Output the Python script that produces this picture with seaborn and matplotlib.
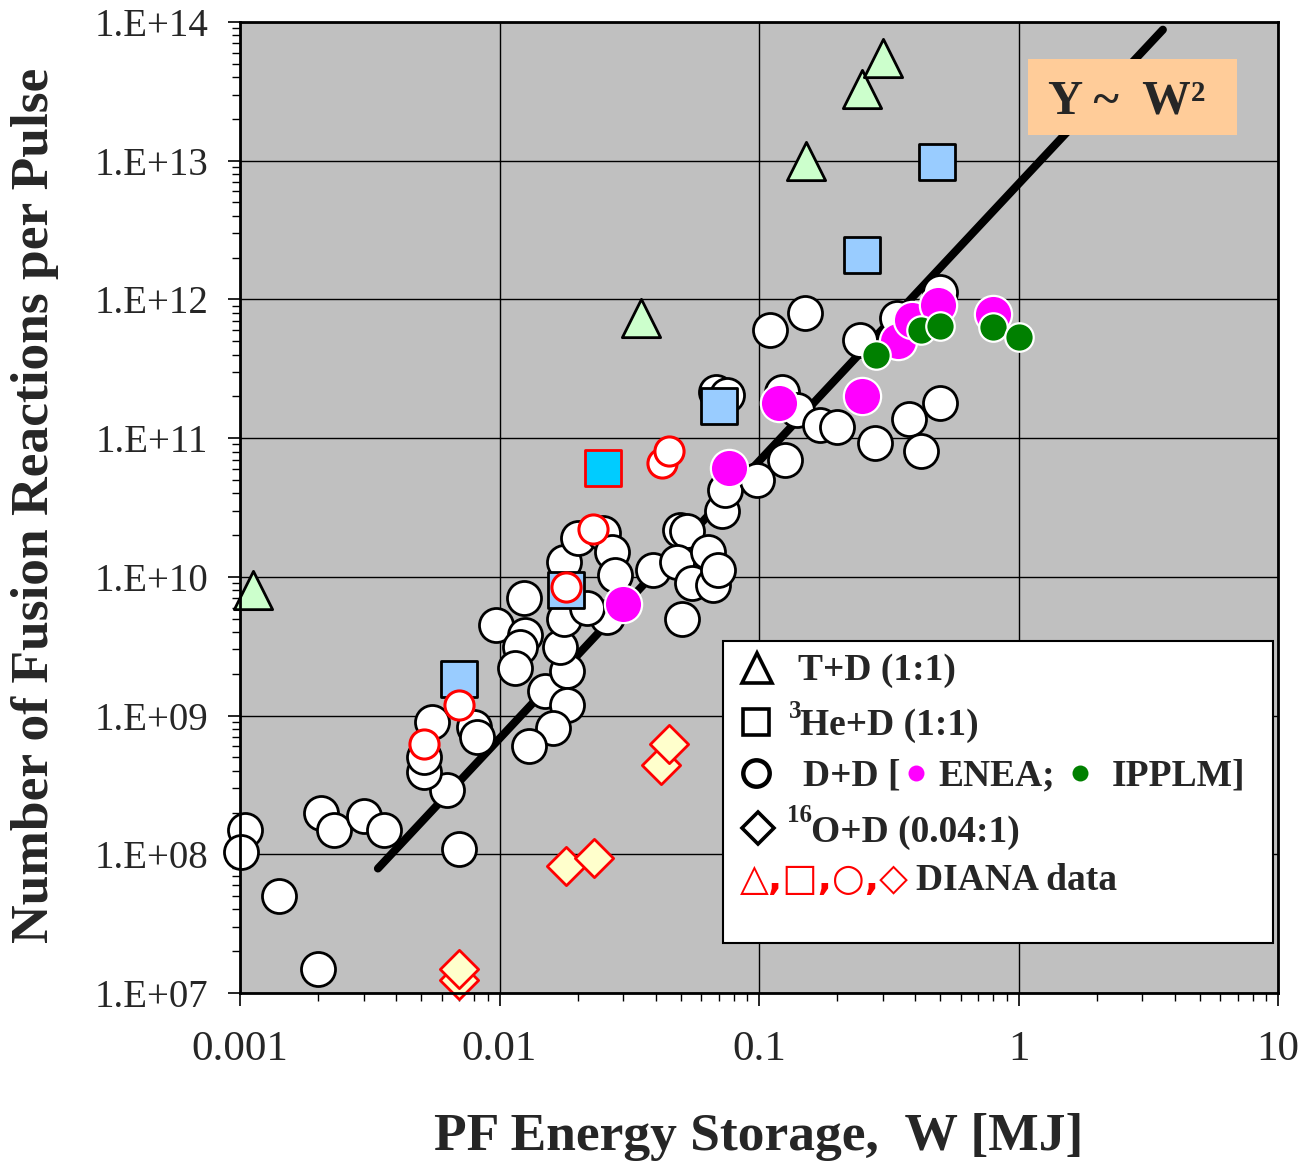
import numpy as np
import pandas as pd
import matplotlib
matplotlib.use("Agg")
import matplotlib.pyplot as plt
import seaborn as sns
from matplotlib.lines import Line2D
from matplotlib.patches import Rectangle
from matplotlib.ticker import LogLocator, NullFormatter

# ---------------- data ----------------
# T+D (1:1)
td_w = [0.00112, 0.035, 0.152, 0.25, 0.30]
td_y = [8.0e9, 7.3e11, 1.0e13, 3.3e13, 5.5e13]
# 3He+D (1:1)
he_w = [0.0070, 0.018, 0.070, 0.25, 0.485]
he_y = [1.83e9, 8.0e9, 1.7e11, 2.1e12, 9.8e12]
# DIANA 3He+D
diana_he_w = [0.025]
diana_he_y = [6.1e10]
# D+D (various devices)
dd_w = [0.00105, 0.00101, 0.00141, 0.0020, 0.00205, 0.0023, 0.0030, 0.0036,
        0.0070, 0.0063, 0.0051, 0.0051, 0.0055, 0.0080, 0.0082,
        0.0124, 0.0097, 0.0125, 0.0120, 0.0115, 0.0150, 0.0182, 0.0182,
        0.0161, 0.0130, 0.0171, 0.0178, 0.0178, 0.0200, 0.025, 0.0272,
        0.0278, 0.026, 0.0218, 0.039, 0.0497, 0.053, 0.0483, 0.0635,
        0.0552, 0.0665, 0.0695, 0.0505, 0.072, 0.074, 0.098, 0.126,
        0.068, 0.075, 0.123, 0.140, 0.172, 0.20, 0.28, 0.378, 0.50,
        0.42, 0.110, 0.150, 0.245, 0.34, 0.50]
dd_y = [1.5e8, 1.04e8, 5.0e7, 1.5e7, 2.0e8, 1.5e8, 1.9e8, 1.5e8,
        1.1e8, 2.9e8, 3.9e8, 5.0e8, 9.0e8, 8.3e8, 7.0e8,
        7.0e9, 4.5e9, 3.8e9, 3.1e9, 2.2e9, 1.5e9, 2.1e9, 1.2e9,
        8.1e8, 6.0e8, 3.1e9, 5.0e9, 1.28e10, 1.9e10, 2.07e10, 1.5e10,
        1.03e10, 5.1e9, 6.0e9, 1.12e10, 2.17e10, 2.15e10, 1.28e10, 1.5e10,
        9.0e9, 8.7e9, 1.12e10, 5.0e9, 3.0e10, 4.2e10, 5.0e10, 7.0e10,
        2.15e11, 2.05e11, 2.15e11, 1.6e11, 1.24e11, 1.2e11, 9.2e10, 1.37e11, 1.8e11,
        8.1e10, 6.0e11, 8.0e11, 5.1e11, 7.3e11, 1.13e12]
# DIANA D+D
diana_dd_w = [0.0051, 0.0070, 0.018, 0.0229, 0.0423, 0.045]
diana_dd_y = [6.2e8, 1.19e9, 8.4e9, 2.2e10, 6.6e10, 8.1e10]
# DIANA 16O+D
diana_od_w = [0.0070, 0.0070, 0.018, 0.0231, 0.0419, 0.045]
diana_od_y = [1.24e7, 1.5e7, 8.2e7, 9.4e7, 4.4e8, 6.2e8]
# ENEA D+D
enea_w = [0.030, 0.0765, 0.119, 0.25, 0.344, 0.389, 0.49, 0.80]
enea_y = [6.4e9, 6.1e10, 1.8e11, 2.0e11, 5.0e11, 7.1e11, 9.1e11, 7.9e11]
# IPPLM D+D
ipplm_w = [0.282, 0.42, 0.50, 0.80, 1.0]
ipplm_y = [4.0e11, 6.0e11, 6.4e11, 6.3e11, 5.4e11]
# Y ~ W^2 line (end points)
fit_w = [0.0034, 3.6]
fit_y = [7.9e7, 8.8e13]

xtick_vals = [0.001, 0.01, 0.1, 1, 10]
xtick_labels = ["0.001", "0.01", "0.1", "1", "10"]
ytick_vals = [1e7, 1e8, 1e9, 1e10, 1e11, 1e12, 1e13, 1e14]
ytick_labels = ["1.E+07", "1.E+08", "1.E+09", "1.E+10",
                "1.E+11", "1.E+12", "1.E+13", "1.E+14"]

# ---------------- styling ----------------
sns.set_style("ticks")
plt.rcParams['font.family'] = ['Liberation Serif', 'DejaVu Sans']

W, H = 1302, 1165
fig = plt.figure(figsize=(W / 100, H / 100), dpi=100)
L, R, T, B = 240, 1278, 22, 993
ax = fig.add_axes([L / W, 1 - B / H, (R - L) / W, (B - T) / H])
ax.set_facecolor('#C0C0C0')
ax.set_xscale('log')
ax.set_yscale('log')


def F(px, py):
    return (px / W, 1 - py / H)


# fit line
sns.lineplot(x=fit_w, y=fit_y, color='black', linewidth=5.8,
             solid_capstyle='round', zorder=2, ax=ax, legend=False)

common = dict(ax=ax, legend=False, clip_on=False)
# D+D white circles
sns.scatterplot(x=dd_w, y=dd_y, marker='o', s=600, color='white',
                edgecolor='black', linewidth=2.0, zorder=3, **common)
# T+D triangles
sns.scatterplot(x=td_w, y=td_y, marker='^', s=760, color='#CCFFCC',
                edgecolor='black', linewidth=2.0, zorder=4, **common)
# 3He+D squares
sns.scatterplot(x=he_w, y=he_y, marker='s', s=680, color='#99CCFF',
                edgecolor='black', linewidth=2.0, zorder=4, **common)
sns.scatterplot(x=diana_he_w, y=diana_he_y, marker='s', s=680, color='#00CCFF',
                edgecolor='red', linewidth=2.0, zorder=4, **common)
# DIANA circles
sns.scatterplot(x=diana_dd_w, y=diana_dd_y, marker='o', s=440, color='white',
                edgecolor='red', linewidth=2.2, zorder=5, **common)
# DIANA diamonds
sns.scatterplot(x=diana_od_w, y=diana_od_y, marker='D', s=380, color='#FFFFCC',
                edgecolor='red', linewidth=2.0, zorder=5, **common)
# ENEA
sns.scatterplot(x=enea_w, y=enea_y, marker='o', s=720, color='#FF00FF',
                edgecolor='white', linewidth=1.6, zorder=6, **common)
# IPPLM
sns.scatterplot(x=ipplm_w, y=ipplm_y, marker='o', s=420, color='#008000',
                edgecolor='white', linewidth=1.6, zorder=7, **common)

ax.set_xlim(1e-3, 10)
ax.set_ylim(1e7, 1e14)
ax.grid(True, which='major', color='black', linewidth=1.0)
ax.grid(False, which='minor')
ax.set_axisbelow(True)

ax.set_xticks(xtick_vals, labels=xtick_labels)
ax.set_yticks(ytick_vals, labels=ytick_labels)
ax.xaxis.set_minor_locator(LogLocator(base=10, subs=np.arange(2, 10), numticks=20))
ax.yaxis.set_minor_locator(LogLocator(base=10, subs=np.arange(2, 10), numticks=20))
ax.xaxis.set_minor_formatter(NullFormatter())
ax.yaxis.set_minor_formatter(NullFormatter())
ax.tick_params(which='major', length=9, width=1.2, direction='out', color='black')
ax.tick_params(which='minor', length=5.5, width=1.0, direction='out', color='black')
ax.tick_params(axis='x', labelsize=31, pad=18)
ax.tick_params(axis='y', labelsize=28, pad=14)
for sp in ax.spines.values():
    sp.set_visible(True)
    sp.set_color('black')
    sp.set_linewidth(2.0)
    sp.set_zorder(8)

ax.set_xlabel("PF Energy Storage,  W [MJ]", fontsize=38.5, fontweight='bold')
ax.xaxis.set_label_coords((759 - L) / (R - L), (B - 1150) / (B - T))
ax.xaxis.label.set_va('baseline')
ax.set_ylabel("Number of Fusion Reactions per Pulse", fontsize=38.5, fontweight='bold')
ax.yaxis.set_label_coords((35 - L) / (R - L), (B - 505) / (B - T))
ax.yaxis.label.set_va('center')

# ---------------- Y ~ W^2 box ----------------
x0, y0 = F(1028, 135)
x1, y1 = F(1237, 59)
fig.add_artist(Rectangle((x0, y0), x1 - x0, y1 - y0, transform=fig.transFigure,
                         facecolor='#FFCC99', edgecolor='none', zorder=10))
fig.text(*F(1048, 114), "Y ~  W\u00b2", fontsize=35, fontweight='bold',
         ha='left', va='baseline', zorder=11)

# ---------------- legend box ----------------
x0, y0 = F(723, 943)
x1, y1 = F(1273, 641)
fig.add_artist(Rectangle((x0, y0), x1 - x0, y1 - y0, transform=fig.transFigure,
                         facecolor='white', edgecolor='black', linewidth=1.5, zorder=10))


def sym(px, py, marker, ms, mec='black', mfc='none', mew=2.6):
    fx, fy = F(px, py)
    fig.add_artist(Line2D([fx], [fy], transform=fig.transFigure, marker=marker,
                          markersize=ms, markerfacecolor=mfc, markeredgecolor=mec,
                          markeredgewidth=mew, linestyle='none', zorder=11))


LF = 27
sym(757, 668, '^', 22)
fig.text(*F(798, 680), "T+D (1:1)", fontsize=LF, fontweight='bold',
         ha='left', va='baseline', zorder=11)
sym(756, 722, 's', 19)
fig.text(*F(789, 718), "3", fontsize=18, fontweight='bold',
         ha='left', va='baseline', zorder=11)
fig.text(*F(800, 735), "He+D (1:1)", fontsize=LF, fontweight='bold',
         ha='left', va='baseline', zorder=11)
sym(756, 773, 'o', 19, mew=3.2)
fig.text(*F(803, 785), "D+D [", fontsize=LF, fontweight='bold',
         ha='left', va='baseline', zorder=11)
sym(916, 773, 'o', 11.5, mec='none', mfc='#FF00FF', mew=0)
fig.text(*F(938, 785), "ENEA;", fontsize=LF, fontweight='bold',
         ha='left', va='baseline', zorder=11)
sym(1080, 773, 'o', 11.5, mec='none', mfc='#008000', mew=0)
fig.text(*F(1112, 785), "IPPLM]", fontsize=LF, fontweight='bold',
         ha='left', va='baseline', zorder=11)
sym(758, 828, 'D', 16)
fig.text(*F(787, 822), "16", fontsize=18, fontweight='bold',
         ha='left', va='baseline', zorder=11)
fig.text(*F(811, 842), "O+D (0.04:1)", fontsize=LF, fontweight='bold',
         ha='left', va='baseline', zorder=11)
fig.text(*F(740, 890), "\u25b3,\u25a1,\u25cb,\u25c7", fontsize=27, fontweight='bold',
         color='red', family=['DejaVu Sans'], ha='left', va='baseline', zorder=11)
fig.text(*F(916, 890), "DIANA data", fontsize=LF, fontweight='bold',
         ha='left', va='baseline', zorder=11)

fig.savefig('out.png', dpi=100)
